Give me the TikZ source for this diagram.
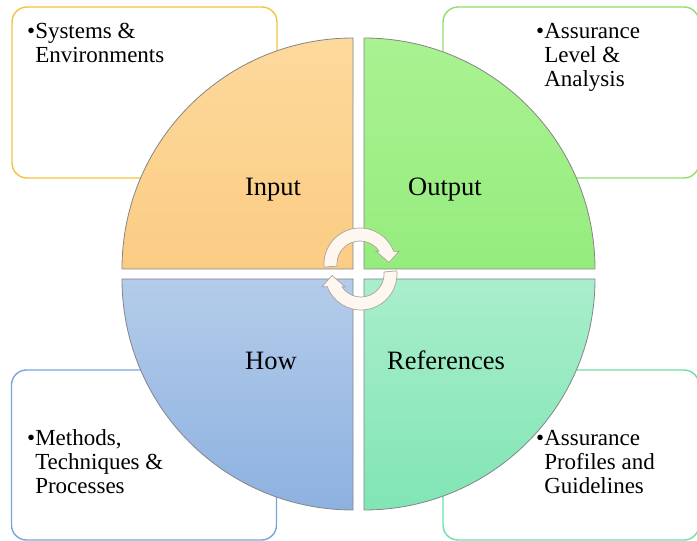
\documentclass[tikz,border=0pt]{standalone}
\usepackage{fontspec}
\setmainfont{Liberation Serif}
\usetikzlibrary{positioning}

\definecolor{boxgold}{HTML}{F3C43A}
\definecolor{boxgreen}{HTML}{8EE06A}
\definecolor{boxblue}{HTML}{78A6DA}
\definecolor{boxmint}{HTML}{6EDFAA}
\definecolor{quadline}{HTML}{858585}
\definecolor{arrowfill}{HTML}{FEF7EF}
\definecolor{arrowline}{HTML}{A9A39C}
% quarter fills, top and bottom of each gradient
\definecolor{inTop}{HTML}{FDD99C}
\definecolor{inBot}{HTML}{FBCC84}
\definecolor{outTop}{HTML}{AAF292}
\definecolor{outBot}{HTML}{95EC7D}
\definecolor{howTop}{HTML}{B4CCEA}
\definecolor{howBot}{HTML}{8DB1E0}
\definecolor{refTop}{HTML}{A9EECC}
\definecolor{refBot}{HTML}{80E5B4}

% bullet followed by a left aligned block of lines
\newcommand{\blist}[1]{\textbullet\begin{tabular}[t]{@{}l@{}}#1\end{tabular}}

\tikzset{
    x=1pt, y=1pt, % one unit is one pixel of the reference
    sidebox/.style={draw, fill=white, rounded corners=15pt, line width=1.4pt,
        minimum width=265pt, minimum height=171pt, inner sep=0pt},
    quarter/.style={draw=quadline, line width=0.8pt},
    bigtext/.style={font=\fontsize{26.5}{30}\selectfont, inner sep=0pt, anchor=base},
    boxtext/.style={font=\fontsize{23}{24}\selectfont, inner sep=0pt, anchor=base west},
    turnarrow/.style={fill=arrowfill, draw=arrowline, line width=0.7pt},
}

\begin{document}
\begin{tikzpicture}
  \useasboundingbox (0,0) rectangle (697,541);

  % boxes behind the circle
  \node[sidebox, draw=boxgold] (sysBox) at (144.5,448.5) {};
  \node[sidebox, draw=boxgreen, minimum width=256pt] (levelBox) at (571,448.5) {};
  \node[sidebox, draw=boxblue, minimum height=170pt] (methBox) at (144,86) {};
  \node[sidebox, draw=boxmint, minimum width=256pt, minimum height=170pt] (profBox) at (571,86) {};

  % the four quarters
  \shadedraw[quarter, top color=inTop, bottom color=inBot]
    (353,272) -- ++(-231,0) arc[start angle=180, end angle=90, radius=231] -- cycle;
  \shadedraw[quarter, top color=outTop, bottom color=outBot]
    (364,272) -- ++(0,231) arc[start angle=90, end angle=0, radius=231] -- cycle;
  \shadedraw[quarter, top color=howTop, bottom color=howBot]
    (353,262) -- ++(-231,0) arc[start angle=180, end angle=270, radius=231] -- cycle;
  \shadedraw[quarter, top color=refTop, bottom color=refBot]
    (364,262) -- ++(0,-231) arc[start angle=270, end angle=360, radius=231] -- cycle;

  % turning arrows in the middle
  \begin{scope}[shift={(360,277)}]
    \draw[turnarrow] (185:36) arc[start angle=185, end angle=20.5, radius=36]
      -- (39,12.7) -- (29,1.5) -- (16,12.7) -- (34:23)
      arc[start angle=34, end angle=185, radius=23] -- cycle;
  \end{scope}
  \begin{scope}[shift={(361,267)}, rotate=180]
    \draw[turnarrow] (185:36) arc[start angle=185, end angle=20.5, radius=36]
      -- (39,12.7) -- (29,1.5) -- (16,12.7) -- (34:23)
      arc[start angle=34, end angle=185, radius=23] -- cycle;
  \end{scope}

  % quarter labels
  \node[bigtext] (input) at (273,345) {Input};
  \node[bigtext] (output) at (445,345) {Output};
  \node[bigtext] (how) at (271,171) {How};
  \node[bigtext] (refs) at (446,171) {References};

  % box texts
  \node[boxtext] (sysText) at (27,502) {\blist{Systems \&\\Environments}};
  \node[boxtext] (levelText) at (536,502) {\blist{Assurance\\Level \&\\Analysis}};
  \node[boxtext] (methText) at (27,95) {\blist{Methods,\\Techniques \&\\Processes}};
  \node[boxtext] (profText) at (536,95) {\blist{Assurance\\Profiles and\\Guidelines}};
\end{tikzpicture}
\end{document}
